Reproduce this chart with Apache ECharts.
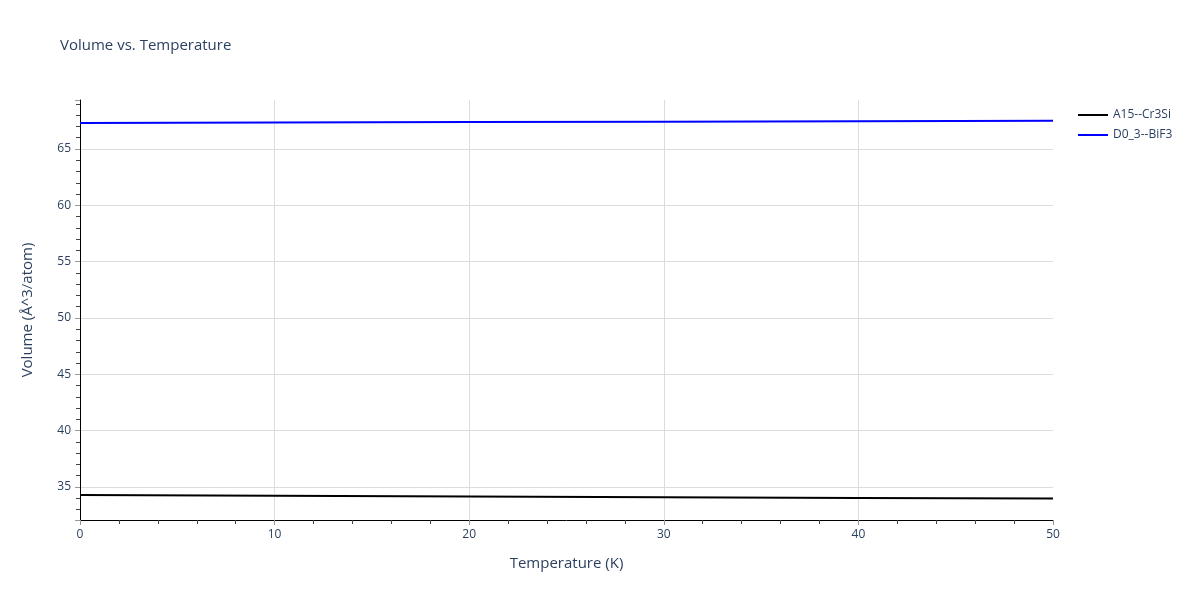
<!DOCTYPE html>
<html>
<head>
<meta charset="utf-8">
<script src="https://cdn.jsdelivr.net/npm/echarts@6/dist/echarts.min.js"></script>
<style>html,body{margin:0;padding:0;background:#fff}#main{width:1200px;height:600px}</style>
</head>
<body>
<div id="main"></div>
<script>
// 温度 (K)
var temps = [0, 10, 20, 30, 40, 50];
// 两个结构的体积
var volA15 = [34.29, 34.23, 34.16, 34.10, 34.03, 33.97];
var volD03 = [67.31, 67.35, 67.39, 67.43, 67.47, 67.51];
var seriesNames = ['A15--Cr3Si', 'D0_3--BiF3'];

function pairs(xs, ys) {
    return xs.map(function (x, i) { return [x, ys[i]]; });
}

var chart = echarts.init(document.getElementById('main'));
var textColor = '#2a3f5f';

chart.setOption({
    backgroundColor: '#fff',
    textStyle: { fontFamily: '"Open Sans", Verdana, Arial, sans-serif' },
    title: {
        text: 'Volume vs. Temperature',
        left: 55, top: 33,
        textStyle: { fontSize: 15, fontWeight: 'normal', color: textColor }
    },
    legend: {
        orient: 'vertical',
        left: 1073, top: 104,
        itemWidth: 30, itemHeight: 2, itemGap: 8,
        icon: 'rect',
        textStyle: { fontSize: 12, color: textColor },
        data: seriesNames
    },
    grid: { left: 80, right: 147, top: 100, bottom: 80 },
    xAxis: {
        type: 'value',
        min: 0, max: 50, interval: 10,
        name: 'Temperature (K)',
        nameLocation: 'middle', nameGap: 36,
        nameTextStyle: { fontSize: 15, color: textColor },
        axisLine: { show: true, lineStyle: { color: '#000', width: 1 } },
        axisTick: { show: true, length: 5, lineStyle: { color: '#999' } },
        minorTick: { show: true, splitNumber: 5, length: 4, lineStyle: { color: '#444' } },
        axisLabel: { fontSize: 12, color: textColor, margin: 9 },
        splitLine: { show: true, showMinLine: false, showMaxLine: false, lineStyle: { color: '#dcdcdc' } }
    },
    yAxis: {
        type: 'value',
        min: 32.07, max: 69.35,
        minInterval: 5, maxInterval: 5,
        name: 'Volume (Å^3/atom)',
        nameLocation: 'middle', nameGap: 45,
        nameTextStyle: { fontSize: 15, color: textColor },
        axisLine: { show: true, lineStyle: { color: '#000', width: 1 } },
        axisTick: { show: true, length: 5, lineStyle: { color: '#999' } },
        minorTick: { show: true, splitNumber: 5, length: 4, lineStyle: { color: '#444' } },
        axisLabel: {
            fontSize: 12, color: textColor, margin: 9,
            formatter: function (v) { return Math.abs(v % 5) < 1e-6 ? String(v) : ''; }
        },
        splitLine: { show: true, showMinLine: false, showMaxLine: false, lineStyle: { color: '#dcdcdc' } }
    },
    series: [{
        name: seriesNames[0],
        type: 'line',
        showSymbol: false,
        data: pairs(temps, volA15),
        lineStyle: { color: '#000', width: 2 },
        itemStyle: { color: '#000' }
    }, {
        name: seriesNames[1],
        type: 'line',
        showSymbol: false,
        data: pairs(temps, volD03),
        lineStyle: { color: '#0000ff', width: 2 },
        itemStyle: { color: '#0000ff' }
    }]
});
</script>
</body>
</html>
